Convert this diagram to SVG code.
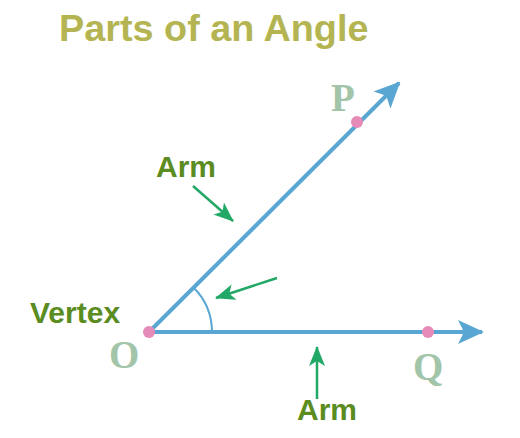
<svg xmlns="http://www.w3.org/2000/svg" width="520" height="438" viewBox="0 0 520 438">
<style>
.title{font-family:"Liberation Sans",Arial,sans-serif;font-weight:bold;font-size:37.8px;fill:#b4b552}
.lbl{font-family:"Liberation Sans",Arial,sans-serif;font-weight:bold;font-size:30px;fill:#5b8c1f}
.pt{font-family:"Liberation Serif","Times New Roman",serif;font-weight:bold;font-size:39px;fill:#a2c4a8}
.ray{stroke:#5aa6d3;stroke-width:4;fill:none}
.arc{stroke:#5aa6d3;stroke-width:2;fill:none}
.ptr{stroke:#22a866;stroke-width:2.5;fill:none}
.dot{fill:#e68ab7}
</style>
<defs>
<marker id="bh" viewBox="0 0 26 26" refX="24" refY="13" markerWidth="26" markerHeight="26" markerUnits="userSpaceOnUse" orient="auto">
<path d="M0,1 L26,13 L0,25 L6,13 Z" fill="#5aa6d3"/>
</marker>
<marker id="gh" viewBox="0 0 20 16" refX="19" refY="8" markerWidth="20" markerHeight="16" markerUnits="userSpaceOnUse" orient="auto">
<path d="M0,0 L20,8 L0,16 L5,8 Z" fill="#22a866"/>
</marker>
</defs>
<text class="title" x="59" y="41">Parts of an Angle</text>
<g id="connectors">
<line class="ray" x1="149" y1="332" x2="399" y2="83" marker-end="url(#bh)"/>
<line class="ray" x1="149" y1="332" x2="482" y2="332" marker-end="url(#bh)"/>
<path class="arc" d="M193.5,287.5 A63,63 0 0 1 212,332"/>
<line class="ptr" x1="193" y1="186" x2="233" y2="221" marker-end="url(#gh)"/>
<line class="ptr" x1="277" y1="278" x2="216" y2="298" marker-end="url(#gh)"/>
<line class="ptr" x1="317" y1="399" x2="317" y2="347" marker-end="url(#gh)"/>
</g>
<g id="vertex-O">
<circle class="dot" cx="149" cy="332" r="6"/>
<text class="pt" x="109" y="368">O</text>
<text class="lbl" x="30" y="323">Vertex</text>
</g>
<g id="point-P">
<circle class="dot" cx="357" cy="122" r="6"/>
<text class="pt" x="331" y="111">P</text>
</g>
<g id="point-Q">
<circle class="dot" cx="428" cy="332" r="6"/>
<text class="pt" x="413" y="380">Q</text>
</g>
<g id="arm-top"><text class="lbl" x="156" y="177">Arm</text></g>
<g id="arm-bottom"><text class="lbl" x="297" y="420">Arm</text></g>
</svg>
